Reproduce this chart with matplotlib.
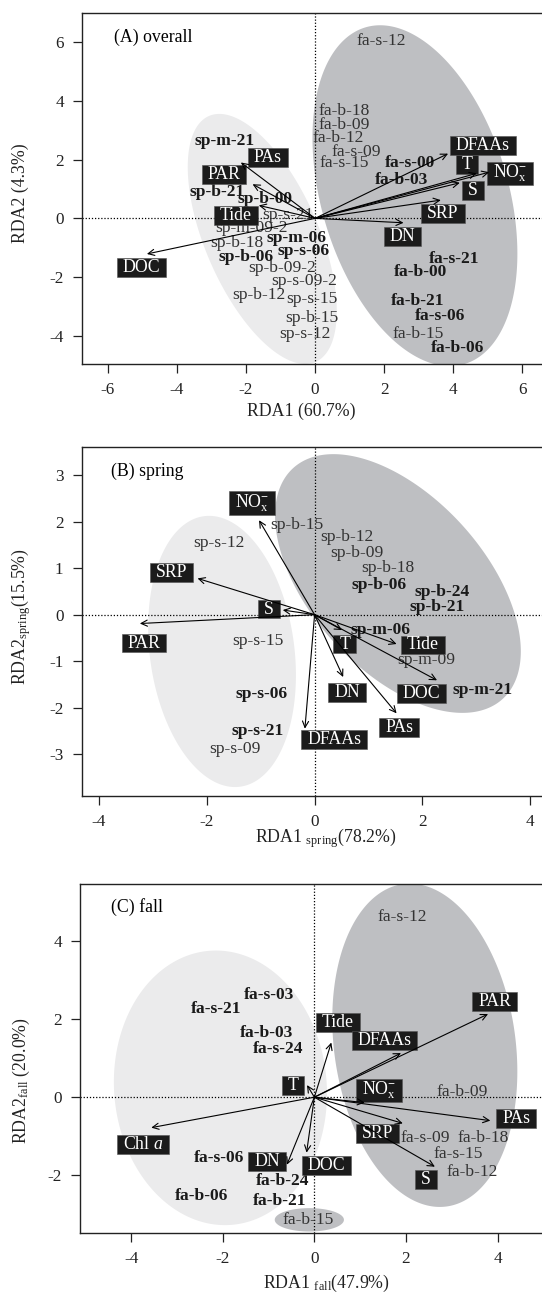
import numpy as np
import matplotlib
matplotlib.use("Agg")
import matplotlib.pyplot as plt
from matplotlib.path import Path

plt.rcParams['font.family'] = ['Liberation Serif', 'DejaVu Serif']
plt.rcParams['mathtext.fontset'] = 'custom'
plt.rcParams['mathtext.rm'] = 'Liberation Serif'
plt.rcParams['mathtext.it'] = 'Liberation Serif:italic'
plt.rcParams['mathtext.bf'] = 'Liberation Serif:bold'
plt.rcParams['axes.unicode_minus'] = False

NOX = r'NO$_{\mathrm{x}}^{\mathbf{-}}$'

# ---- (A) overall ----
a_env = ['DFAAs', 'T', NOX, 'S', 'SRP', 'DN', 'DOC', 'Tide', 'PAR', 'PAs']
a_tip_x = [3.85, 4.68, 5.04, 4.19, 3.64, 2.56, -4.87, -1.63, -1.81, -2.15]
a_tip_y = [2.20, 1.53, 1.57, 1.21, 0.62, -0.15, -1.21, 0.44, 1.16, 1.90]
a_lab_x = [4.86, 4.40, 5.64, 4.58, 3.70, 2.53, -5.02, -2.30, -2.64, -1.37]
a_lab_y = [2.47, 1.83, 1.52, 0.96, 0.17, -0.62, -1.66, 0.10, 1.50, 2.07]

a_sites = ['fa-s-12', 'fa-b-18', 'fa-b-09', 'fa-b-12', 'fa-s-09', 'fa-s-15',
           'fa-s-00', 'fa-b-03', 'sp-m-21', 'sp-b-21', 'sp-b-00', 'sp-s-21',
           'sp-m-09-2', 'sp-b-18', 'sp-m-06', 'sp-b-06', 'sp-s-06',
           'sp-b-09-2', 'sp-s-09-2', 'sp-b-12', 'sp-s-15', 'sp-b-15',
           'sp-s-12', 'fa-s-21', 'fa-b-00', 'fa-b-21', 'fa-s-06', 'fa-b-15',
           'fa-b-06']
a_site_x = [1.91, 0.83, 0.83, 0.66, 1.19, 0.83, 2.75, 2.50, -2.61, -2.83,
            -1.45, -0.80, -1.83, -2.26, -0.54, -2.01, -0.33, -0.96, -0.31,
            -1.64, -0.10, -0.08, -0.28, 4.03, 3.05, 2.98, 3.61, 2.98, 4.11]
a_site_y = [6.04, 3.66, 3.19, 2.74, 2.26, 1.87, 1.87, 1.30, 2.62, 0.88,
            0.65, 0.11, -0.34, -0.85, -0.68, -1.30, -1.11, -1.70, -2.13,
            -2.61, -2.74, -3.40, -3.94, -1.39, -1.83, -2.80, -3.32, -3.94,
            -4.40]
a_bold = ['fa-s-00', 'fa-b-03', 'sp-m-21', 'sp-b-21', 'sp-b-00', 'sp-m-06',
          'sp-b-06', 'sp-s-06', 'fa-s-21', 'fa-b-00', 'fa-b-21', 'fa-s-06',
          'fa-b-06']
# ellipses: centre x, centre y, semi-axes (x units), angle (deg)
a_ell_spring = [-1.53, -0.70, 3.88, 1.645, -66.6]
a_ell_fall = [2.89, 0.77, 5.08, 2.71, -73.7]

# ---- (B) spring ----
b_env = [NOX, 'SRP', 'S', 'PAR', 'T', 'Tide', 'DN', 'DOC', 'PAs', 'DFAAs']
b_tip_x = [-1.03, -2.17, -0.59, -3.24, 0.51, 1.52, 0.53, 2.27, 1.52, -0.18]
b_tip_y = [2.03, 0.78, 0.10, -0.19, -0.33, -0.63, -1.34, -1.41, -2.12, -2.45]
b_lab_x = [-1.16, -2.66, -0.84, -3.16, 0.56, 2.01, 0.60, 1.98, 1.57, 0.36]
b_lab_y = [2.40, 0.91, 0.12, -0.61, -0.63, -0.65, -1.68, -1.70, -2.43, -2.69]

b_sites = ['sp-b-15', 'sp-s-12', 'sp-b-12', 'sp-b-09', 'sp-b-18', 'sp-b-06',
           'sp-b-24', 'sp-b-21', 'sp-s-15', 'sp-m-06', 'sp-m-09', 'sp-m-21',
           'sp-s-06', 'sp-s-21', 'sp-s-09']
b_site_x = [-0.33, -1.77, 0.59, 0.79, 1.35, 1.19, 2.37, 2.27, -1.05, 1.23,
            2.07, 3.11, -0.99, -1.06, -1.48]
b_site_y = [1.93, 1.53, 1.66, 1.32, 1.00, 0.64, 0.48, 0.17, -0.56, -0.33,
            -0.98, -1.62, -1.71, -2.50, -2.88]
b_bold = ['sp-b-06', 'sp-b-24', 'sp-b-21', 'sp-m-06', 'sp-m-21', 'sp-s-06',
          'sp-s-21']
b_ell_spring = [-1.716, -0.79, 2.53, 1.34, -82.4]
b_ell_fall = [1.545, 0.67, 2.89, 1.61, -47.8]

# ---- (C) fall ----
c_env = ['PAR', 'Tide', 'DFAAs', 'T', NOX, 'PAs', 'SRP', 'S', 'DOC', 'DN',
         r'Chl $\mathit{a}$']
c_tip_x = [3.79, 0.37, 1.89, -0.16, 1.10, 3.84, 1.93, 2.63, -0.17, -0.60, -3.56]
c_tip_y = [2.13, 1.40, 1.13, 0.31, -0.14, -0.60, -0.67, -1.78, -1.42, -1.73, -0.78]
c_lab_x = [3.93, 0.515, 1.53, -0.47, 1.41, 4.40, 1.38, 2.44, 0.27, -1.03, -3.73]
c_lab_y = [2.45, 1.92, 1.45, 0.30, 0.17, -0.55, -0.92, -2.10, -1.75, -1.64, -1.21]

c_sites = ['fa-s-12', 'fa-s-03', 'fa-s-21', 'fa-b-03', 'fa-s-24', 'fa-b-09',
           'fa-s-09', 'fa-b-18', 'fa-s-15', 'fa-b-12', 'fa-s-06', 'fa-b-24',
           'fa-b-06', 'fa-b-21', 'fa-b-15']
c_site_x = [1.92, -0.98, -2.15, -1.05, -0.79, 3.22, 2.43, 3.69, 3.14, 3.45,
            -2.09, -0.69, -2.46, -0.76, -0.13]
c_site_y = [4.61, 2.62, 2.26, 1.65, 1.24, 0.14, -1.05, -1.05, -1.46, -1.92,
            -1.56, -2.14, -2.53, -2.65, -3.14]
c_bold = ['fa-s-03', 'fa-s-21', 'fa-b-03', 'fa-s-24', 'fa-s-06', 'fa-b-24',
          'fa-b-06', 'fa-b-21']
c_ell_spring = [-2.05, 0.24, 3.0, 2.32, -85.3]
c_ell_fall = [2.41, 1.33, 3.55, 1.98, -82.3]
c_ell_small = [-0.11, -3.14, 0.755, 0.255, 0.0]

LIGHT = '#ebebec'
DARK = '#bebfc2'


def wide_box(x0, y0, width, height, mutation_size):
    px = 0.33 * mutation_size
    py = 0.05 * mutation_size
    verts = [(x0 - px, y0 - py), (x0 + width + px, y0 - py),
             (x0 + width + px, y0 + height + py), (x0 - px, y0 + height + py),
             (x0 - px, y0 - py)]
    return Path(verts, closed=True)


def add_ellipse(ax, ell, color):
    cx, cy, a, b, ang = ell
    p0 = ax.transData.transform((0, 0))
    sx = ax.transData.transform((1, 0))[0] - p0[0]
    sy = ax.transData.transform((0, 1))[1] - p0[1]
    t = np.linspace(0, 2 * np.pi, 300)
    th = np.radians(ang)
    u = a * np.cos(t)
    v = b * np.sin(t)
    dx = u * np.cos(th) - v * np.sin(th)
    dy = (u * np.sin(th) + v * np.cos(th)) * sx / sy
    ax.fill(cx + dx, cy + dy, color=color, lw=0, zorder=1)


W, H = 542, 1293
fig = plt.figure(figsize=(W / 100, H / 100), dpi=100)


def make_axes(left, top, right, bottom):
    return fig.add_axes([left / W, 1 - bottom / H, (right - left) / W, (bottom - top) / H])


def draw_panel(ax, xlim, ylim, xticks, yticks, ells, env, tx, ty, lx, ly,
               sites, sx_, sy_, bold, title, tpos):
    ax.set_xlim(*xlim)
    ax.set_ylim(*ylim)
    for ell, col in ells:
        add_ellipse(ax, ell, col)
    ax.axhline(0, color='k', ls=(0, (1, 1.5)), lw=0.9, zorder=2)
    ax.axvline(0, color='k', ls=(0, (1, 1.5)), lw=0.9, zorder=2)
    for name, x, y in zip(sites, sx_, sy_):
        ax.text(x, y, name, ha='center', va='center', fontsize=12.6,
                fontweight='bold' if name in bold else 'normal',
                color='#1a1a1a' if name in bold else '#333333', zorder=3)
    for name, x, y in zip(env, lx, ly):
        ax.text(x, y, name, ha='center', va='center', fontsize=12.8, color='white',
                bbox=dict(boxstyle=wide_box, fc='#1b1b1b', ec='#555555', lw=0.4),
                zorder=4)
    for x, y in zip(tx, ty):
        ax.annotate('', xy=(x, y), xytext=(0, 0),
                    arrowprops=dict(arrowstyle='->,head_length=0.45,head_width=0.22',
                                    lw=0.8, color='k', shrinkA=0, shrinkB=0,
                                    mutation_scale=10), zorder=5)
    ax.text(tpos[0], tpos[1], title, ha='left', va='center', fontsize=12.8, zorder=6)
    ax.set_xticks(xticks)
    ax.set_yticks(yticks)
    ax.spines['right'].set_visible(False)
    for s in ['left', 'bottom', 'top']:
        ax.spines[s].set_linewidth(1.0)
        ax.spines[s].set_color('#222222')
    ax.tick_params(direction='out', length=6.5, width=0.9, pad=6.5,
                   labelsize=12.3, colors='#222222')


axA = make_axes(82.3, 12.7, 560, 364.3)
draw_panel(axA, (-6.74, 7.09), (-4.96, 6.99), [-6, -4, -2, 0, 2, 4, 6],
           [-4, -2, 0, 2, 4, 6], [(a_ell_spring, LIGHT), (a_ell_fall, DARK)],
           a_env, a_tip_x, a_tip_y, a_lab_x, a_lab_y,
           a_sites, a_site_x, a_site_y, a_bold, '(A) overall', (-5.82, 6.15))

axB = make_axes(81.6, 446.7, 560, 795.7)
draw_panel(axB, (-4.32, 4.55), (-3.89, 3.61), [-4, -2, 0, 2, 4],
           [-3, -2, -1, 0, 1, 2, 3], [(b_ell_spring, LIGHT), (b_ell_fall, DARK)],
           b_env, b_tip_x, b_tip_y, b_lab_x, b_lab_y,
           b_sites, b_site_x, b_site_y, b_bold, '(B) spring', (-3.77, 3.07))

axC = make_axes(80.2, 884, 560, 1232.7)
draw_panel(axC, (-5.11, 5.36), (-3.47, 5.46), [-4, -2, 0, 2, 4],
           [-2, 0, 2, 4], [(c_ell_spring, LIGHT), (c_ell_fall, DARK), (c_ell_small, DARK)],
           c_env, c_tip_x, c_tip_y, c_lab_x, c_lab_y,
           c_sites, c_site_x, c_site_y, c_bold, '(C) fall', (-4.43, 4.88))

# axis titles
lab = dict(fontsize=12.8, color='#222222', ha='center', va='center')
fig.text(300.8 / W, 1 - 411 / H, 'RDA1 (60.7%)', **lab)
fig.text(20 / W, 1 - 193 / H, 'RDA2 (4.3%)', rotation=90, **lab)
fig.text(325.7 / W, 1 - 838 / H, r'RDA1 $_{\mathrm{spring}}$(78.2%)', **lab)
fig.text(21 / W, 1 - 617 / H, r'RDA2$_{\mathrm{spring}}$(15.5%)', rotation=90, **lab)
fig.text(326.7 / W, 1 - 1283 / H, r'RDA1 $_{\mathrm{fall}}$(47.9%)', **lab)
fig.text(21 / W, 1 - 1081 / H, r'RDA2$_{\mathrm{fall}}$ (20.0%)', rotation=90, **lab)

fig.savefig('out.png', dpi=100)
